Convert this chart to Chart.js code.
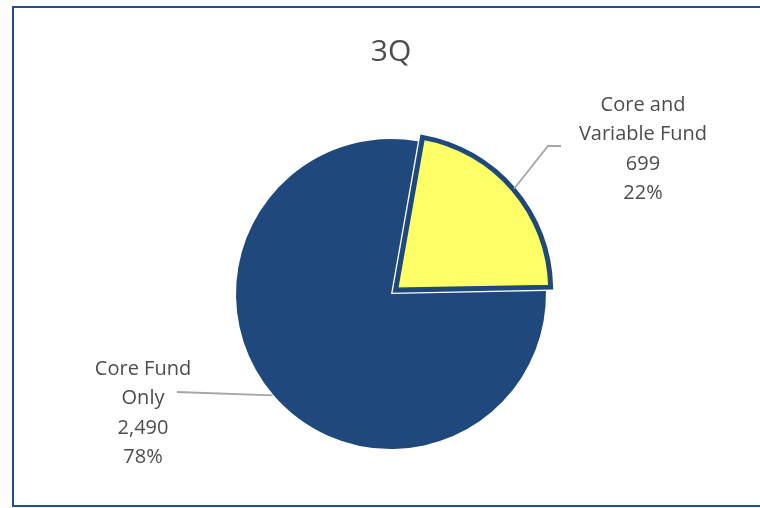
<!DOCTYPE html>
<html>
<head>
<meta charset="utf-8">
<script src="https://cdn.jsdelivr.net/npm/chart.js@4"></script>
<style>
  html, body { margin: 0; padding: 0; background: #fff; }
  #wrap { width: 760px; height: 508px; position: relative; }
</style>
</head>
<body>
<div id="wrap"><canvas id="grafico3Q" width="760" height="508"></canvas></div>
<script>
const titulo = '3Q';
const categorias = [['Core and', 'Variable Fund'], ['Core Fund', 'Only']];
const valores = [699, 2490];
const percentuais = ['22%', '78%'];
const cores = ['#FFFF66', '#1F497D'];

const corTexto = '#4D4D4D';
const fonteTexto = '20px "Open Sans"';

// posições dos rótulos (centro da primeira linha) e ponto final da linha guia
const rotulos = [
    { x: 643, y: 105, guia: [[548, 146], [561, 146]] },
    { x: 143, y: 369, guia: [[177, 392]] }
];

const rotulosPlugin = {
    id: 'rotulos',
    beforeDraw(chart) {
        const c = chart.ctx;
        c.save();
        c.strokeStyle = '#24508A';
        c.lineWidth = 2;
        c.strokeRect(13, 7, 800, 499);
        c.restore();
    },
    afterDraw(chart) {
        const c = chart.ctx;
        const arcos = chart.getDatasetMeta(0).data;
        c.save();
        arcos.forEach((arco, i) => {
            const { x, y, startAngle, endAngle, outerRadius } = arco.getProps(['x', 'y', 'startAngle', 'endAngle', 'outerRadius'], true);
            const meio = (startAngle + endAngle) / 2;
            const r = rotulos[i];
            // linha guia
            c.strokeStyle = '#A6A6A6';
            c.lineWidth = 1.8;
            c.beginPath();
            const extra = i === 0 ? 7 : 1;
            c.moveTo(x + Math.cos(meio) * (outerRadius + extra), y + Math.sin(meio) * (outerRadius + extra));
            r.guia.forEach(p => c.lineTo(p[0], p[1]));
            c.stroke();
            // texto
            const linhas = [...categorias[i], valores[i].toLocaleString('en-US'), percentuais[i]];
            c.fillStyle = corTexto;
            c.font = fonteTexto;
            c.textAlign = 'center';
            c.textBaseline = 'middle';
            linhas.forEach((t, k) => c.fillText(t, r.x, r.y + k * 29.5));
        });
        c.restore();
    }
};

const ctx = document.getElementById('grafico3Q').getContext('2d');
new Chart(ctx, {
    type: 'pie',
    data: {
        labels: categorias.map(l => l.join(' ')),
        datasets: [{
            data: valores,
            backgroundColor: cores,
            borderColor: ['#1F497D', '#1F497D'],
            borderWidth: [5, 0],
            borderJoinStyle: 'miter',
            offset: [24, 0],
            radius: 155
        }]
    },
    options: {
        responsive: false,
        animation: false,
        rotation: 10,
        layout: { padding: { left: 22, right: 0, top: 0, bottom: 0 } },
        plugins: {
            legend: { display: false },
            tooltip: { enabled: false },
            title: {
                display: true,
                text: titulo,
                color: corTexto,
                font: { family: '"Open Sans"', size: 30, weight: 'normal', lineHeight: 1.2 },
                padding: { top: 34, bottom: 10 }
            }
        }
    },
    plugins: [rotulosPlugin]
});
</script>
</body>
</html>
